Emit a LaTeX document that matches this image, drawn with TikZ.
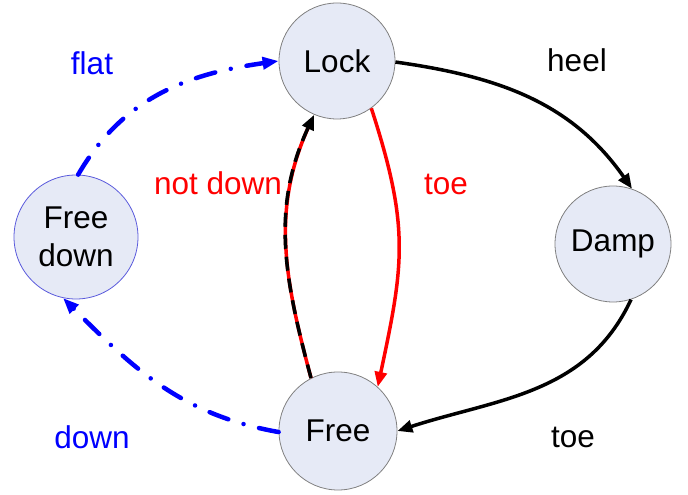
\documentclass[tikz,border=0pt]{standalone}
\usepackage{fontspec}
\setmainfont{Liberation Sans}
\usetikzlibrary{arrows.meta}
\definecolor{nodefill}{RGB}{230,234,246}
\definecolor{nodeline}{RGB}{128,128,128}
\definecolor{fdline}{RGB}{90,90,220}
\begin{document}
\begin{tikzpicture}[x=1pt,y=1pt,
  state/.style={circle, draw=nodeline, line width=0.8pt, fill=nodefill, minimum size=116pt, inner sep=0pt, font=\fontsize{31.5}{38}\selectfont, align=center},
  lbl/.style={font=\fontsize{31.5}{38}\selectfont, anchor=base},
  tip/.style={-{Triangle[length=15pt,width=12pt]}},
  solidarrow/.style={line width=3.5pt, tip},
  dashdot/.style={blue, line width=4.5pt, line cap=round, dash pattern=on 20pt off 16pt on 0pt off 16pt, -{Triangle[length=16pt,width=12pt]}}
]
\useasboundingbox (0,0) rectangle (688,495);
\node[state] (lock) at (337,434) {Lock};
\node[state, minimum size=118pt] (free) at (338,64) {Free};
\node[state, draw=fdline, minimum size=124pt] (fd) at (76,258) {Free\\down};
\node[state] (damp) at (613,251) {Damp};

\draw[solidarrow] (lock.359) to[out=-8,in=125] (damp.71);
\draw[solidarrow] (damp.288) to[out=-115,in=18] (free.0);
\draw[red, line width=3.5pt, tip] (lock.306) to[out=-72,in=78,looseness=1.15] (free.48);
\draw[red, line width=3.5pt, shorten >=10pt] (free.117) to[out=105,in=-115] (lock.247);
\draw[line width=3.5pt, dash pattern=on 14pt off 8pt, tip] (free.117) to[out=105,in=-115] (lock.247);
\draw[dashdot] (free.181) to[out=170,in=-45] (fd.258);
\draw[dashdot] (fd.88) to[out=60,in=188] (lock.180);

\node[lbl, blue] (lflat) at (92,420) {flat};
\node[lbl] (lheel) at (577,423) {heel};
\node[lbl, red] (ltoe1) at (446,300) {toe};
\node[lbl, red] (lnd) at (218,300) {not down};
\node[lbl] (ltoe2) at (573,47) {toe};
\node[lbl, blue] (ldown) at (92,46) {down};
\end{tikzpicture}
\end{document}
